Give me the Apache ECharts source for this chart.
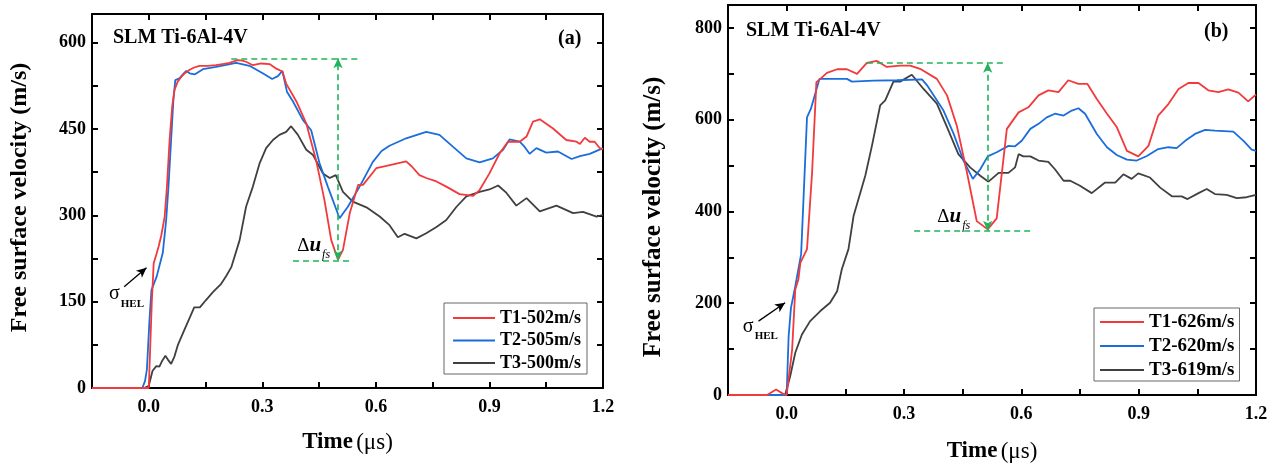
<!DOCTYPE html>
<html><head><meta charset="utf-8">
<script src="https://cdn.jsdelivr.net/npm/echarts@6/dist/echarts.min.js"></script>
<style>html,body{margin:0;padding:0;background:#fff}#c{width:1278px;height:465px}</style>
</head><body><div id="c"></div>
<script>
// ---------- data ----------
const xMajor = [0, 0.3, 0.6, 0.9, 1.2];
const xMinor = [0.15, 0.45, 0.75, 1.05];
const yMajorA = [0, 150, 300, 450, 600];
const yMinorA = [75, 225, 375, 525];
const yMajorB = [0, 200, 400, 600, 800];
const yMinorB = [100, 300, 500, 700];
const namesA = ['T1-502m/s', 'T2-505m/s', 'T3-500m/s'];
const namesB = ['T1-626m/s', 'T2-620m/s', 'T3-619m/s'];

const a_T1 = [[-0.15,0],[0.0,0],[0.002,3],[0.008,150],[0.013,217],[0.02,232],[0.026,246],[0.033,265],[0.042,298],[0.048,350],[0.055,431],[0.062,490],[0.068,518],[0.076,532],[0.086,541],[0.097,548],[0.108,553],[0.12,557],[0.134,560],[0.155,560],[0.178,561],[0.195,563],[0.213,565],[0.235,570],[0.247,569],[0.257,567],[0.275,561],[0.297,564],[0.319,563],[0.337,555],[0.353,550],[0.363,529],[0.39,498],[0.416,460],[0.442,396],[0.464,327],[0.482,257],[0.5,223],[0.513,240],[0.531,304],[0.553,353],[0.566,353],[0.601,382],[0.628,386],[0.68,394],[0.695,385],[0.715,370],[0.733,365],[0.76,359],[0.786,350],[0.821,337],[0.857,334],[0.874,344],[0.9,373],[0.927,408],[0.949,428],[0.98,428],[0.998,437],[1.015,463],[1.033,467],[1.068,451],[1.103,431],[1.13,428],[1.139,424],[1.152,435],[1.165,428],[1.178,428],[1.191,417],[1.2,415]];
const a_T2 = [[-0.15,0],[-0.017,0],[-0.01,12],[-0.005,32],[0.002,120],[0.007,170],[0.021,194],[0.037,235],[0.046,292],[0.052,350],[0.059,431],[0.065,500],[0.07,535],[0.081,538],[0.09,545],[0.099,551],[0.108,547],[0.121,545],[0.143,554],[0.178,558],[0.231,565],[0.266,560],[0.301,547],[0.326,537],[0.341,542],[0.353,551],[0.365,515],[0.381,498],[0.407,466],[0.429,448],[0.451,391],[0.473,350],[0.504,295],[0.526,315],[0.557,350],[0.592,393],[0.615,412],[0.636,421],[0.68,434],[0.733,445],[0.768,440],[0.804,419],[0.839,399],[0.874,392],[0.909,399],[0.936,414],[0.953,432],[0.98,428],[0.993,419],[1.006,407],[1.024,417],[1.05,409],[1.081,411],[1.117,398],[1.139,403],[1.165,407],[1.2,417]];
const a_T3 = [[-0.15,0],[-0.012,0],[0.0,4],[0.01,30],[0.02,38],[0.028,37],[0.036,48],[0.044,56],[0.052,48],[0.059,42],[0.068,55],[0.077,75],[0.094,101],[0.11,125],[0.12,140],[0.135,140],[0.15,152],[0.17,167],[0.19,180],[0.205,195],[0.218,210],[0.24,257],[0.257,315],[0.275,350],[0.293,391],[0.31,417],[0.328,431],[0.345,440],[0.363,445],[0.376,455],[0.394,440],[0.416,414],[0.434,405],[0.46,373],[0.478,365],[0.494,370],[0.513,341],[0.539,324],[0.575,314],[0.61,298],[0.636,283],[0.658,262],[0.676,268],[0.707,260],[0.733,269],[0.76,280],[0.786,292],[0.813,315],[0.839,333],[0.874,341],[0.9,345],[0.923,352],[0.945,339],[0.971,317],[0.998,330],[1.033,307],[1.077,317],[1.121,304],[1.147,306],[1.183,298],[1.2,301]];

const b_T1 = [[-0.15,0],[-0.05,0],[-0.027,12],[-0.01,3],[0.0,0],[0.014,99],[0.022,230],[0.03,252],[0.035,288],[0.052,318],[0.065,485],[0.076,682],[0.086,689],[0.103,702],[0.129,710],[0.154,710],[0.18,700],[0.205,724],[0.231,728],[0.256,715],[0.29,718],[0.316,718],[0.341,711],[0.384,689],[0.41,653],[0.435,587],[0.461,485],[0.486,379],[0.514,361],[0.537,385],[0.563,580],[0.593,616],[0.618,627],[0.644,653],[0.669,664],[0.695,660],[0.72,686],[0.746,678],[0.769,678],[0.793,645],[0.819,613],[0.844,584],[0.87,532],[0.899,520],[0.925,543],[0.95,609],[0.976,634],[1.002,667],[1.027,680],[1.053,680],[1.078,664],[1.104,660],[1.129,666],[1.155,659],[1.18,640],[1.2,655]];
const b_T2 = [[-0.15,0],[0.0,0],[0.005,128],[0.011,190],[0.022,237],[0.037,307],[0.052,605],[0.062,624],[0.084,689],[0.111,689],[0.154,689],[0.167,683],[0.222,685],[0.282,686],[0.346,688],[0.359,675],[0.401,620],[0.427,569],[0.452,511],[0.476,471],[0.495,492],[0.514,520],[0.537,529],[0.567,543],[0.584,542],[0.601,554],[0.623,580],[0.644,591],[0.665,605],[0.686,613],[0.708,609],[0.729,620],[0.746,625],[0.763,613],[0.793,569],[0.819,540],[0.844,523],[0.87,513],[0.895,511],[0.921,521],[0.95,536],[0.976,540],[0.997,538],[1.019,554],[1.044,569],[1.07,578],[1.095,576],[1.142,574],[1.168,554],[1.189,535],[1.2,532]];
const b_T3 = [[-0.15,0],[-0.004,0],[0.009,41],[0.022,92],[0.039,132],[0.06,161],[0.086,183],[0.111,201],[0.129,226],[0.141,274],[0.158,318],[0.171,390],[0.201,478],[0.218,543],[0.239,631],[0.252,642],[0.273,683],[0.29,683],[0.32,698],[0.35,667],[0.384,635],[0.41,584],[0.439,525],[0.469,496],[0.495,478],[0.516,465],[0.542,484],[0.567,484],[0.584,496],[0.593,525],[0.605,520],[0.623,520],[0.644,511],[0.669,508],[0.686,492],[0.708,467],[0.725,467],[0.75,456],[0.78,440],[0.814,463],[0.84,463],[0.861,481],[0.882,471],[0.899,483],[0.929,474],[0.955,452],[0.985,433],[1.01,433],[1.025,427],[1.053,440],[1.074,449],[1.095,438],[1.125,436],[1.151,429],[1.176,431],[1.2,436]];

// annotation positions (data space)
const annA = { x: 0.5, top: 573, bottom: 222, topSpan: [0.218, 0.553], botSpan: [0.381, 0.54], label: [0.392, 247], helTail: [-0.065, 176], helHead: [-0.006, 209], helText: [-0.105, 163] };
const annB = { x: 0.514, top: 724, bottom: 358, topSpan: [0.205, 0.554], botSpan: [0.326, 0.631], label: [0.385, 388], helTail: [-0.072, 161], helHead: [-0.004, 201], helText: [-0.112, 148] };

// ---------- styling ----------
const SERIF = '"Liberation Serif","Times New Roman",serif';
const COLORS = ['#f2393c', '#1a6ddb', '#404040'];
const GREEN = '#20b45a';

function xAxes(gi, nameGap) {
  const base = { type: 'value', gridIndex: gi, min: -0.15, max: 1.2, splitLine: { show: false },
    axisLine: { show: true, onZero: false, lineStyle: { color: '#000', width: 2 } } };
  return [
    Object.assign({}, base, {
      position: 'bottom',
      axisTick: { show: true, inside: true, length: 6, lineStyle: { width: 2, color: '#000' }, customValues: xMajor.concat(xMinor) },
      axisLabel: { show: true, customValues: xMajor, formatter: v => v.toFixed(1), margin: 10, color: '#000', fontFamily: SERIF, fontWeight: 'bold', fontSize: 18 },
      name: '{b|Time} {n|(μs)}', nameLocation: 'middle', nameGap: nameGap,
      nameTextStyle: { rich: { b: { fontFamily: SERIF, fontWeight: 'bold', fontSize: 23, color: '#000' }, n: { fontFamily: SERIF, fontSize: 23, color: '#000' } } }
    }),
    Object.assign({}, base, {
      position: 'top',
      axisTick: { show: true, inside: true, length: 6, lineStyle: { width: 2, color: '#000' }, customValues: xMajor.concat(xMinor) },
      axisLabel: { show: false }
    })
  ];
}
function yAxes(gi, max, major, minor, nameGap, fs, namePad) {
  const base = { type: 'value', gridIndex: gi, min: 0, max: max, splitLine: { show: false },
    axisLine: { show: true, onZero: false, lineStyle: { color: '#000', width: 2 } } };
  return [
    Object.assign({}, base, {
      position: 'left',
      axisTick: { show: true, inside: true, length: 6, lineStyle: { width: 2, color: '#000' }, customValues: major.concat(minor) },
      axisLabel: { show: true, customValues: major, margin: 6, color: '#000', fontFamily: SERIF, fontWeight: 'bold', fontSize: 18 },
      name: 'Free surface velocity (m/s)', nameLocation: 'middle', nameGap: nameGap,
      nameTextStyle: { fontFamily: SERIF, fontWeight: 'bold', fontSize: fs, color: '#000', padding: namePad }
    }),
    Object.assign({}, base, {
      position: 'right',
      axisTick: { show: true, inside: true, length: 6, lineStyle: { width: 2, color: '#000' }, customValues: major.concat(minor) },
      axisLabel: { show: false }
    })
  ];
}

function annotations(ann) {
  const dash = { color: GREEN, type: [6, 4], width: 1.6 };
  return {
    markLine: {
      silent: true, animation: false, symbol: ['none', 'none'], label: { show: false },
      data: [
        [{ coord: [ann.topSpan[0], ann.top], lineStyle: dash }, { coord: [ann.topSpan[1], ann.top] }],
        [{ coord: [ann.botSpan[0], ann.bottom], lineStyle: dash }, { coord: [ann.botSpan[1], ann.bottom] }],
        [{ coord: [ann.x, ann.bottom], symbol: 'arrow', symbolSize: [7, 10], lineStyle: dash }, { coord: [ann.x, ann.top], symbol: 'arrow', symbolSize: [7, 10] }],
        [{ coord: ann.helTail, lineStyle: { color: '#000', type: 'solid', width: 1.3 } }, { coord: ann.helHead, symbol: 'arrow', symbolSize: [7, 10] }]
      ]
    },
    markPoint: {
      silent: true, animation: false, symbol: 'circle', symbolSize: 0,
      data: [
        { coord: ann.label, label: { show: true, position: 'right', distance: 0,
          formatter: '{d|Δ}{u|u}{s|fs}',
          rich: { d: { fontFamily: SERIF, fontSize: 19, color: '#000', lineHeight: 26, verticalAlign: 'middle' },
                  u: { fontFamily: SERIF, fontSize: 21, fontWeight: 'bold', fontStyle: 'italic', color: '#000', lineHeight: 26, verticalAlign: 'middle' },
                  s: { fontFamily: SERIF, fontSize: 12, fontStyle: 'italic', color: '#000', lineHeight: 26, verticalAlign: 'bottom', padding: [0, 0, -2, 1] } } } },
        { coord: ann.helText, label: { show: true, position: 'right', distance: 0,
          formatter: '{g|σ}{h|HEL}',
          rich: { g: { fontFamily: SERIF, fontSize: 20, color: '#000', lineHeight: 24, verticalAlign: 'middle' },
                  h: { fontFamily: SERIF, fontSize: 11, fontWeight: 'bold', color: '#000', lineHeight: 24, verticalAlign: 'bottom', padding: [0, 0, -3, 1] } } } }
      ]
    }
  };
}

function line(name, data, ci, xi, yi, extra) {
  return Object.assign({ type: 'line', name: name, data: data, xAxisIndex: xi, yAxisIndex: yi,
    symbol: 'none', showSymbol: false, animation: false, z: 3 - ci,
    lineStyle: { color: COLORS[ci], width: 1.8 }, itemStyle: { color: COLORS[ci] } }, extra || {});
}

function legend(names, left, top, gap, itemW, fs, pad) {
  return { data: names, orient: 'vertical', left: left, top: top, icon: 'rect', itemWidth: itemW, itemHeight: 2,
    itemGap: gap, padding: pad, borderColor: '#666', borderWidth: 1, backgroundColor: '#fff',
    selectedMode: false, textStyle: { fontFamily: SERIF, fontWeight: 'bold', fontSize: fs, color: '#000', lineHeight: 20 } };
}

const option = {
  animation: false,
  backgroundColor: '#fff',
  grid: [
    { left: 92, top: 14, width: 511, height: 374, outerBoundsMode: 'none', containLabel: false },
    { left: 728, top: 5, width: 528, height: 390, outerBoundsMode: 'none', containLabel: false }
  ],
  xAxis: xAxes(0, 43).concat(xAxes(1, 45)),
  yAxis: yAxes(0, 650, yMajorA, yMinorA, 60, 24, [0, 0, 0, 7]).concat(yAxes(1, 850, yMajorB, yMinorB, 62, 25, [0, 34, 0, 0])),
  title: [
    { text: 'SLM Ti-6Al-4V', left: 113, top: 28, textStyle: { fontFamily: SERIF, fontWeight: 'bold', fontSize: 20, color: '#000' }, padding: 0 },
    { text: '(a)', left: 558, top: 29, textStyle: { fontFamily: SERIF, fontWeight: 'bold', fontSize: 20, color: '#000' }, padding: 0 },
    { text: 'SLM Ti-6Al-4V', left: 746, top: 21, textStyle: { fontFamily: SERIF, fontWeight: 'bold', fontSize: 20, color: '#000' }, padding: 0 },
    { text: '(b)', left: 1204, top: 22, textStyle: { fontFamily: SERIF, fontWeight: 'bold', fontSize: 20, color: '#000' }, padding: 0 }
  ],
  legend: [
    legend(namesA, 444, 303, 2.5, 42, 18, [5, 6, 1, 9]),
    legend(namesB, 1094, 308, 4, 44, 19, [4, 5, 1, 6])
  ],
  series: [
    line(namesA[0], a_T1, 0, 0, 0, annotations(annA)),
    line(namesA[1], a_T2, 1, 0, 0),
    line(namesA[2], a_T3, 2, 0, 0),
    line(namesB[0], b_T1, 0, 2, 2, annotations(annB)),
    line(namesB[1], b_T2, 1, 2, 2),
    line(namesB[2], b_T3, 2, 2, 2)
  ]
};
const chart = echarts.init(document.getElementById('c'), null, { renderer: 'canvas' });
chart.setOption(option);
</script></body></html>
